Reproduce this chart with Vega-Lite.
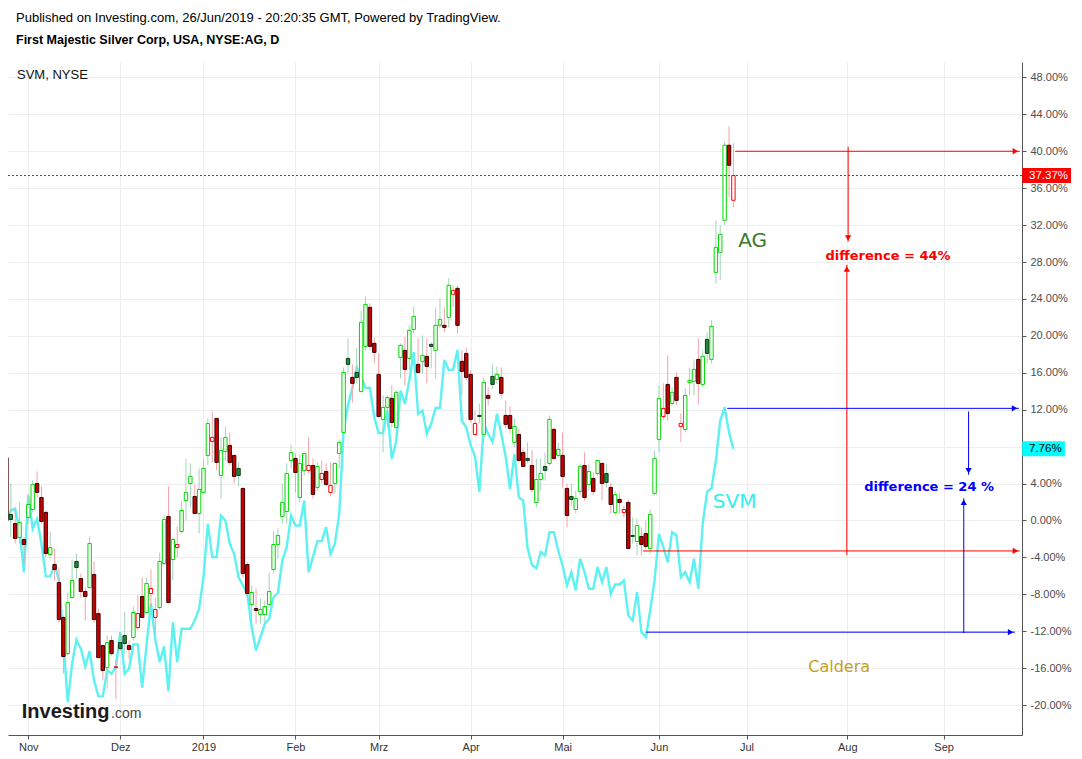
{
  "$schema": "https://vega.github.io/schema/vega-lite/v6.json",
  "width": 1014,
  "height": 673,
  "autosize": {"type": "none"},
  "padding": {"left": 8, "top": 62, "right": 60, "bottom": 24},
  "background": "#ffffff",
  "title": {
    "text": "Published on Investing.com, 26/Jun/2019 - 20:20:35 GMT, Powered by TradingView.",
    "subtitle": "First Majestic Silver Corp, USA, NYSE:AG, D",
    "anchor": "start", "frame": "group", "offset": 16, "dx": 8,
    "font": "Liberation Sans", "fontSize": 13, "fontWeight": "normal", "color": "#000000",
    "subtitleFont": "Liberation Sans", "subtitleFontSize": 12.5, "subtitleFontWeight": "bold",
    "subtitleColor": "#000000", "subtitlePadding": 9
  },
  "config": {
    "view": {"stroke": null},
    "scale": {"continuousPadding": 0},
    "axis": {
      "domainColor": "#555555", "tickColor": "#555555", "gridColor": "#eeeeee",
      "labelColor": "#4d4d4d", "labelFont": "Liberation Sans", "labelFontSize": 11,
      "tickSize": 4, "domainWidth": 1, "gridWidth": 1, "labelOverlap": false
    }
  },
  "datasets": {
    "prices": [
      {"t":-5,"o":6.8,"h":7.0,"l":-0.3,"c":0.0,"svm":0.0},
      {"t":-4,"o":0.65,"h":4.01,"l":-1.84,"c":0.11,"svm":1.1},
      {"t":-3,"o":-0.33,"h":1.41,"l":-2.49,"c":-1.95,"svm":1.27},
      {"t":-2,"o":-1.84,"h":1.95,"l":-2.49,"c":-0.22,"svm":-1.0},
      {"t":-1,"o":-2.06,"h":-1.84,"l":-4.88,"c":-2.60,"svm":-5.6},
      {"t":0,"o":0.33,"h":2.93,"l":-0.33,"c":1.73,"svm":2.71},
      {"t":1,"o":1.19,"h":4.34,"l":0.87,"c":3.90,"svm":-0.9},
      {"t":2,"o":4.01,"h":5.31,"l":2.38,"c":3.04,"svm":0.18},
      {"t":3,"o":2.49,"h":3.69,"l":-0.33,"c":-0.11,"svm":-2.5},
      {"t":4,"o":0.87,"h":1.08,"l":-4.01,"c":-3.58,"svm":-6.06},
      {"t":5,"o":-3.69,"h":-1.19,"l":-4.12,"c":-2.93,"svm":-6.06},
      {"t":6,"o":-4.77,"h":-3.04,"l":-6.50,"c":-5.31,"svm":-4.76},
      {"t":7,"o":-6.72,"h":-5.09,"l":-11.06,"c":-10.73,"svm":-6.5},
      {"t":8,"o":-10.51,"h":-10.30,"l":-16.59,"c":-14.74,"svm":-13.0},
      {"t":9,"o":-14.42,"h":-7.80,"l":-14.63,"c":-8.89,"svm":-19.67},
      {"t":10,"o":-8.35,"h":-4.23,"l":-8.46,"c":-6.50,"svm":-15.5},
      {"t":11,"o":-4.44,"h":-3.58,"l":-6.29,"c":-5.09,"svm":-12.9},
      {"t":12,"o":-6.29,"h":-5.75,"l":-8.35,"c":-7.70,"svm":-13.9},
      {"t":13,"o":-7.70,"h":-7.26,"l":-10.84,"c":-8.24,"svm":-15.8},
      {"t":14,"o":-7.26,"h":-1.73,"l":-7.37,"c":-2.49,"svm":-14.15},
      {"t":15,"o":-5.85,"h":-4.44,"l":-11.06,"c":-10.73,"svm":-17.3},
      {"t":16,"o":-10.08,"h":-9.54,"l":-14.96,"c":-14.85,"svm":-19.06},
      {"t":17,"o":-13.55,"h":-13.55,"l":-17.34,"c":-16.26,"svm":-19.06},
      {"t":18,"o":-15.94,"h":-12.47,"l":-18.21,"c":-13.23,"svm":-16.24},
      {"t":19,"o":-13.01,"h":-12.47,"l":-14.63,"c":-14.42,"svm":-16.6},
      {"t":20,"o":-15.94,"h":-15.18,"l":-19.40,"c":-15.85,"svm":-15.88},
      {"t":21,"o":-13.23,"h":-12.25,"l":-14.09,"c":-13.88,"svm":-12.09},
      {"t":22,"o":-12.47,"h":-9.86,"l":-14.42,"c":-13.33,"svm":-16.6},
      {"t":23,"o":-13.55,"h":-13.01,"l":-14.96,"c":-13.98,"svm":-16.06},
      {"t":24,"o":-12.68,"h":-9.32,"l":-13.01,"c":-9.97,"svm":-13.43},
      {"t":25,"o":-11.60,"h":-8.13,"l":-11.92,"c":-10.08,"svm":-13.43},
      {"t":26,"o":-8.24,"h":-6.18,"l":-10.62,"c":-10.51,"svm":-18.12},
      {"t":27,"o":-9.97,"h":-6.18,"l":-10.08,"c":-6.83,"svm":-13.5},
      {"t":28,"o":-7.91,"h":-5.31,"l":-9.43,"c":-7.37,"svm":-9.02},
      {"t":29,"o":-10.51,"h":-8.35,"l":-12.25,"c":-9.65,"svm":-12.92},
      {"t":30,"o":-9.43,"h":-3.47,"l":-9.65,"c":-4.44,"svm":-15.34},
      {"t":31,"o":-4.66,"h":0.54,"l":-4.88,"c":0.11,"svm":-13.64},
      {"t":32,"o":0.43,"h":3.69,"l":-9.00,"c":-8.89,"svm":-18.48},
      {"t":33,"o":-4.23,"h":-1.84,"l":-6.50,"c":-2.06,"svm":-11.01},
      {"t":34,"o":-2.93,"h":-0.65,"l":-4.01,"c":-2.60,"svm":-15.34},
      {"t":35,"o":-1.19,"h":2.17,"l":-1.41,"c":1.08,"svm":-11.73},
      {"t":36,"o":2.17,"h":6.72,"l":0.0,"c":3.04,"svm":-11.73},
      {"t":37,"o":4.01,"h":6.18,"l":1.41,"c":4.77,"svm":-11.73},
      {"t":38,"o":2.60,"h":3.90,"l":0.76,"c":0.76,"svm":-10.83},
      {"t":39,"o":0.76,"h":5.64,"l":-1.41,"c":3.36,"svm":-9.57},
      {"t":40,"o":3.04,"h":6.72,"l":2.93,"c":5.64,"svm":-6.14},
      {"t":41,"o":7.05,"h":11.06,"l":5.96,"c":10.51,"svm":-0.36},
      {"t":42,"o":8.56,"h":11.82,"l":6.29,"c":9.00,"svm":-3.97},
      {"t":43,"o":11.06,"h":11.06,"l":5.42,"c":6.29,"svm":-3.97},
      {"t":44,"o":4.88,"h":9.00,"l":2.38,"c":7.59,"svm":0.54},
      {"t":45,"o":7.48,"h":10.19,"l":6.50,"c":9.00,"svm":0.0},
      {"t":46,"o":8.13,"h":9.54,"l":5.96,"c":6.29,"svm":-2.52},
      {"t":47,"o":7.05,"h":7.05,"l":4.01,"c":4.77,"svm":-3.61},
      {"t":48,"o":5.64,"h":6.29,"l":3.69,"c":4.88,"svm":-6.14},
      {"t":49,"o":3.47,"h":3.58,"l":-6.18,"c":-5.75,"svm":-7.04},
      {"t":50,"o":-4.77,"h":-4.55,"l":-8.35,"c":-7.91,"svm":-7.94},
      {"t":51,"o":-9.11,"h":-7.05,"l":-11.17,"c":-7.80,"svm":-11.55},
      {"t":52,"o":-9.54,"h":-7.37,"l":-11.17,"c":-9.76,"svm":-14.08},
      {"t":53,"o":-10.19,"h":-8.46,"l":-11.17,"c":-9.65,"svm":-12.63},
      {"t":54,"o":-10.19,"h":-8.67,"l":-11.17,"c":-9.32,"svm":-11.19},
      {"t":55,"o":-9.11,"h":-5.64,"l":-9.43,"c":-7.70,"svm":-10.65},
      {"t":56,"o":-5.31,"h":-1.19,"l":-5.75,"c":-2.60,"svm":-8.3},
      {"t":57,"o":-2.60,"h":-0.87,"l":-4.12,"c":-1.63,"svm":-7.83},
      {"t":58,"o":0.43,"h":4.01,"l":-0.33,"c":1.95,"svm":-4.33},
      {"t":59,"o":0.98,"h":6.18,"l":-0.33,"c":5.09,"svm":-2.89},
      {"t":60,"o":6.50,"h":8.24,"l":5.64,"c":7.37,"svm":0.54},
      {"t":61,"o":6.72,"h":7.26,"l":3.04,"c":5.20,"svm":-0.54},
      {"t":62,"o":2.49,"h":7.15,"l":1.95,"c":6.18,"svm":-0.54},
      {"t":63,"o":5.42,"h":7.37,"l":4.88,"c":7.26,"svm":2.17},
      {"t":64,"o":5.42,"h":9.00,"l":5.09,"c":5.96,"svm":-5.6},
      {"t":65,"o":5.96,"h":6.72,"l":2.38,"c":2.82,"svm":-3.97},
      {"t":66,"o":3.58,"h":6.29,"l":3.25,"c":5.85,"svm":-2.24},
      {"t":67,"o":4.44,"h":6.50,"l":4.01,"c":5.09,"svm":-2.24},
      {"t":68,"o":5.31,"h":6.18,"l":3.69,"c":3.90,"svm":-0.72},
      {"t":69,"o":3.04,"h":6.29,"l":2.60,"c":3.80,"svm":-3.61},
      {"t":70,"o":4.01,"h":6.29,"l":2.93,"c":6.18,"svm":-2.52},
      {"t":71,"o":7.26,"h":8.78,"l":5.64,"c":8.46,"svm":0.72},
      {"t":72,"o":9.54,"h":16.59,"l":9.00,"c":16.04,"svm":9.75},
      {"t":73,"o":17.56,"h":19.73,"l":15.94,"c":16.91,"svm":12.5},
      {"t":74,"o":15.50,"h":16.91,"l":12.79,"c":14.85,"svm":14.4},
      {"t":75,"o":16.04,"h":18.65,"l":14.85,"c":15.50,"svm":16.6},
      {"t":76,"o":13.98,"h":22.66,"l":13.88,"c":21.46,"svm":15.52},
      {"t":77,"o":18.86,"h":24.28,"l":18.43,"c":23.41,"svm":14.37},
      {"t":78,"o":23.09,"h":23.52,"l":18.43,"c":18.86,"svm":14.37},
      {"t":79,"o":19.19,"h":19.84,"l":17.02,"c":18.21,"svm":11.19},
      {"t":80,"o":15.83,"h":18.10,"l":11.17,"c":11.27,"svm":9.46},
      {"t":81,"o":10.95,"h":13.55,"l":7.37,"c":12.25,"svm":9.46},
      {"t":82,"o":12.25,"h":13.55,"l":10.08,"c":13.33,"svm":11.91},
      {"t":83,"o":13.23,"h":14.63,"l":10.08,"c":10.62,"svm":6.68},
      {"t":84,"o":10.08,"h":14.09,"l":9.97,"c":13.88,"svm":8.59},
      {"t":85,"o":17.67,"h":19.19,"l":15.39,"c":18.97,"svm":14.08},
      {"t":86,"o":18.43,"h":19.84,"l":14.63,"c":16.37,"svm":12.63},
      {"t":87,"o":17.56,"h":21.14,"l":16.26,"c":20.60,"svm":15.16},
      {"t":88,"o":20.70,"h":23.20,"l":20.27,"c":22.11,"svm":18.23},
      {"t":89,"o":16.91,"h":19.73,"l":15.94,"c":16.04,"svm":11.55},
      {"t":90,"o":17.24,"h":20.05,"l":15.94,"c":17.89,"svm":11.91},
      {"t":91,"o":17.78,"h":19.73,"l":14.85,"c":16.69,"svm":9.39},
      {"t":92,"o":19.08,"h":19.30,"l":16.48,"c":18.86,"svm":10.47},
      {"t":93,"o":18.43,"h":23.09,"l":15.39,"c":21.14,"svm":12.2},
      {"t":94,"o":21.14,"h":24.07,"l":20.81,"c":21.79,"svm":12.2},
      {"t":95,"o":21.14,"h":23.09,"l":20.38,"c":20.92,"svm":17.4},
      {"t":96,"o":22.01,"h":26.23,"l":20.92,"c":25.47,"svm":16.32},
      {"t":97,"o":24.50,"h":25.47,"l":23.09,"c":24.93,"svm":16.32},
      {"t":98,"o":25.15,"h":25.47,"l":20.27,"c":21.14,"svm":18.48},
      {"t":99,"o":17.24,"h":18.43,"l":13.55,"c":16.15,"svm":10.8},
      {"t":100,"o":18.10,"h":18.75,"l":15.18,"c":15.50,"svm":10.1},
      {"t":101,"o":15.83,"h":16.26,"l":10.62,"c":10.95,"svm":8.2},
      {"t":102,"o":9.32,"h":11.92,"l":9.21,"c":10.51,"svm":6.9},
      {"t":103,"o":11.38,"h":12.68,"l":10.51,"c":11.27,"svm":3.1},
      {"t":104,"o":9.32,"h":15.50,"l":8.35,"c":14.96,"svm":10.5},
      {"t":105,"o":13.55,"h":14.42,"l":12.47,"c":13.23,"svm":9.4},
      {"t":106,"o":15.61,"h":16.91,"l":14.31,"c":14.74,"svm":8.5},
      {"t":107,"o":15.28,"h":16.69,"l":14.85,"c":15.83,"svm":11.55},
      {"t":108,"o":15.50,"h":16.59,"l":13.23,"c":13.77,"svm":9.4},
      {"t":109,"o":11.38,"h":13.01,"l":9.97,"c":10.41,"svm":6.9},
      {"t":110,"o":11.38,"h":12.36,"l":9.43,"c":9.97,"svm":3.4},
      {"t":111,"o":8.46,"h":11.06,"l":7.91,"c":10.19,"svm":7.2},
      {"t":112,"o":9.32,"h":9.97,"l":6.29,"c":6.50,"svm":2.5},
      {"t":113,"o":7.37,"h":7.80,"l":5.75,"c":5.85,"svm":2.17},
      {"t":114,"o":6.72,"h":8.46,"l":6.18,"c":6.50,"svm":-3.0},
      {"t":115,"o":5.96,"h":7.59,"l":3.04,"c":3.36,"svm":-4.8},
      {"t":116,"o":1.95,"h":6.72,"l":1.41,"c":4.44,"svm":-5.2},
      {"t":117,"o":4.44,"h":6.72,"l":3.25,"c":5.09,"svm":-3.43},
      {"t":118,"o":5.85,"h":7.37,"l":4.34,"c":5.42,"svm":-3.79},
      {"t":119,"o":6.18,"h":11.38,"l":5.96,"c":10.95,"svm":-1.26},
      {"t":120,"o":9.86,"h":10.08,"l":6.50,"c":6.72,"svm":-1.26},
      {"t":121,"o":7.05,"h":8.46,"l":6.83,"c":7.70,"svm":-3.25},
      {"t":122,"o":7.05,"h":9.54,"l":3.58,"c":4.77,"svm":-4.87},
      {"t":123,"o":3.47,"h":4.01,"l":-0.76,"c":0.54,"svm":-7.04},
      {"t":124,"o":2.60,"h":4.01,"l":1.63,"c":2.28,"svm":-5.6},
      {"t":125,"o":1.19,"h":3.25,"l":0.76,"c":2.38,"svm":-7.58},
      {"t":126,"o":3.14,"h":6.18,"l":2.71,"c":5.85,"svm":-4.15},
      {"t":127,"o":5.96,"h":7.37,"l":2.17,"c":2.49,"svm":-5.6},
      {"t":128,"o":3.90,"h":6.18,"l":3.25,"c":5.31,"svm":-7.4},
      {"t":129,"o":4.55,"h":5.20,"l":2.71,"c":3.14,"svm":-7.4},
      {"t":130,"o":5.09,"h":6.61,"l":4.88,"c":6.50,"svm":-5.05},
      {"t":131,"o":6.18,"h":6.29,"l":2.17,"c":4.01,"svm":-6.68},
      {"t":132,"o":5.09,"h":6.18,"l":3.58,"c":4.12,"svm":-5.05},
      {"t":133,"o":3.58,"h":4.12,"l":0.76,"c":1.73,"svm":-7.94},
      {"t":134,"o":0.87,"h":3.25,"l":0.54,"c":2.82,"svm":-6.93},
      {"t":135,"o":2.28,"h":3.04,"l":0.76,"c":1.95,"svm":-6.93},
      {"t":136,"o":0.87,"h":1.63,"l":0.33,"c":1.19,"svm":-6.5},
      {"t":137,"o":1.95,"h":2.28,"l":-3.04,"c":-3.04,"svm":-10.29},
      {"t":138,"o":-1.63,"h":0.33,"l":-2.49,"c":-1.73,"svm":-10.83},
      {"t":139,"o":-2.28,"h":0.22,"l":-3.79,"c":-0.54,"svm":-7.76},
      {"t":140,"o":-1.73,"h":-0.76,"l":-3.79,"c":-2.60,"svm":-12.09},
      {"t":141,"o":-1.41,"h":0.0,"l":-3.04,"c":-2.82,"svm":-12.63},
      {"t":142,"o":-3.04,"h":1.19,"l":-3.58,"c":0.65,"svm":-9.75},
      {"t":143,"o":2.93,"h":7.59,"l":2.71,"c":6.72,"svm":-6.5},
      {"t":144,"o":8.78,"h":14.63,"l":7.37,"c":13.23,"svm":-1.44},
      {"t":145,"o":11.27,"h":14.85,"l":10.95,"c":12.14,"svm":-2.89},
      {"t":146,"o":14.74,"h":17.89,"l":10.84,"c":11.60,"svm":-4.51},
      {"t":147,"o":12.68,"h":14.42,"l":12.47,"c":13.88,"svm":-1.26},
      {"t":148,"o":15.50,"h":16.04,"l":12.47,"c":13.01,"svm":-1.62},
      {"t":149,"o":10.19,"h":11.60,"l":8.46,"c":10.51,"svm":-6.14},
      {"t":150,"o":9.86,"h":14.31,"l":9.54,"c":13.55,"svm":-5.6},
      {"t":151,"o":14.96,"h":16.59,"l":13.55,"c":15.18,"svm":-6.68},
      {"t":152,"o":15.07,"h":17.45,"l":13.55,"c":16.37,"svm":-4.15},
      {"t":153,"o":17.45,"h":19.73,"l":12.57,"c":14.85,"svm":-7.4},
      {"t":154,"o":14.74,"h":18.43,"l":14.42,"c":17.78,"svm":-0.3},
      {"t":155,"o":19.62,"h":20.38,"l":17.02,"c":18.10,"svm":3.1},
      {"t":156,"o":17.45,"h":21.68,"l":17.02,"c":21.03,"svm":3.5},
      {"t":157,"o":26.88,"h":32.52,"l":25.69,"c":29.59,"svm":6.5},
      {"t":158,"o":29.05,"h":31.98,"l":26.02,"c":31.00,"svm":10.83},
      {"t":159,"o":32.52,"h":40.98,"l":31.98,"c":40.65,"svm":12.27},
      {"t":160,"o":40.65,"h":42.71,"l":35.01,"c":38.48,"svm":9.57},
      {"t":161,"o":34.69,"h":40.87,"l":33.93,"c":37.37,"svm":7.76}
    ]
  },
  "layer": [
    {
      "data": {"name": "prices"},
      "mark": {"type": "line", "color": "#4cf0f0", "strokeWidth": 2.4, "opacity": 0.9, "clip": true},
      "encoding": {
        "x": {
          "field": "t", "type": "quantitative", "title": null,
          "scale": {"domain": [-4.64, 226.9], "nice": false, "zero": false, "padding": 0},
          "axis": {
            "orient": "bottom", "grid": true, "tickCount": 40,
            "values": [0, 21, 40, 61, 80, 101, 122, 144, 164, 187, 209],
            "labelExpr": "['Nov','Dez','2019','Feb','Mrz','Apr','Mai','Jun','Jul','Aug','Sep'][indexof([0,21,40,61,80,101,122,144,164,187,209], datum.value)]",
            "labelPadding": 2, "labelColor": "#333333", "labelOverlap": false
          }
        },
        "y": {
          "field": "svm", "type": "quantitative", "title": null,
          "scale": {"domain": [-23.24, 49.67], "nice": false, "zero": false, "padding": 0},
          "axis": {
            "orient": "right", "grid": true, "tickCount": 40,
            "values": [-20, -16, -12, -8, -4, 0, 4, 8, 12, 16, 20, 24, 28, 32, 36, 40, 44, 48],
            "labelExpr": "(datum.value < 0 ? '-' : '') + format(abs(datum.value), '.2f') + '%'",
            "labelPadding": 4, "labelOverlap": false
          }
        }
      }
    },
    {
      "data": {"name": "prices"},
      "transform": [{"window": [{"op": "lag", "field": "c", "as": "pc"}], "sort": [{"field": "t"}]}],
      "mark": {"type": "rule", "strokeWidth": 1, "clip": true},
      "encoding": {
        "x": {"field": "t", "type": "quantitative", "title": null, "scale": {"domain": [-4.64, 226.9], "nice": false, "zero": false, "padding": 0}},
        "y": {"field": "l", "type": "quantitative", "title": null, "scale": {"domain": [-23.24, 49.67], "nice": false, "zero": false, "padding": 0}},
        "y2": {"field": "h"},
        "color": {"condition": {"test": "datum.pc != null && datum.c >= datum.pc", "value": "#a3d4b8"}, "value": "#f4a3ab"}
      }
    },
    {
      "data": {"name": "prices"},
      "transform": [{"window": [{"op": "lag", "field": "c", "as": "pc"}], "sort": [{"field": "t"}]}],
      "mark": {"type": "bar", "width": 3.4, "strokeWidth": 1, "clip": true},
      "encoding": {
        "x": {"field": "t", "type": "quantitative", "title": null, "scale": {"domain": [-4.64, 226.9], "nice": false, "zero": false, "padding": 0}},
        "y": {"field": "o", "type": "quantitative", "title": null, "scale": {"domain": [-23.24, 49.67], "nice": false, "zero": false, "padding": 0}},
        "y2": {"field": "c"},
        "fill": {
          "condition": [
            {"test": "datum.c > datum.o", "value": "#ffffff"},
            {"test": "datum.pc != null && datum.c >= datum.pc", "value": "#1e8c3c"}
          ],
          "value": "#c80000"
        },
        "stroke": {
          "condition": [
            {"test": "datum.c > datum.o && datum.pc != null && datum.c >= datum.pc", "value": "#00d800"},
            {"test": "datum.c > datum.o", "value": "#ff0000"},
            {"test": "datum.pc != null && datum.c >= datum.pc", "value": "#0c3a12"}
          ],
          "value": "#3c0000"
        }
      }
    },
    {
      "data": {"values": [{"s": "AG", "v": 37.37}]},
      "mark": {"type": "rule", "strokeWidth": 1, "strokeDash": [2, 2], "opacity": 1},
      "encoding": {
        "y": {"field": "v", "type": "quantitative", "title": null, "scale": {"domain": [-23.24, 49.67], "nice": false, "zero": false, "padding": 0}},
        "color": {"field": "s", "type": "nominal", "scale": {"domain": ["AG", "SVM"], "range": ["#ff0000", "#0000ff"]}, "legend": null}
      }
    },
    {
      "data": {"values": [
        {"s": "AG", "x1": 161.4, "x2": 226.4, "y1": 40, "y2": 40},
        {"s": "AG", "x1": 140.4, "x2": 226.4, "y1": -3.3, "y2": -3.3},
        {"s": "AG", "x1": 187.2, "x2": 187.2, "y1": 40.5, "y2": 30.2},
        {"s": "AG", "x1": 186.9, "x2": 186.9, "y1": -3.75, "y2": 27.7},
        {"s": "SVM", "x1": 159.6, "x2": 226.2, "y1": 12.15, "y2": 12.15},
        {"s": "SVM", "x1": 141.1, "x2": 225.3, "y1": -12.1, "y2": -12.1},
        {"s": "SVM", "x1": 214.7, "x2": 214.7, "y1": 11.8, "y2": 4.95},
        {"s": "SVM", "x1": 213.6, "x2": 213.6, "y1": -12.2, "y2": 2.4}
      ]},
      "mark": {"type": "rule", "strokeWidth": 1},
      "encoding": {
        "x": {"field": "x1", "type": "quantitative", "title": null, "scale": {"domain": [-4.64, 226.9], "nice": false, "zero": false, "padding": 0}},
        "x2": {"field": "x2"},
        "y": {"field": "y1", "type": "quantitative", "title": null, "scale": {"domain": [-23.24, 49.67], "nice": false, "zero": false, "padding": 0}},
        "y2": {"field": "y2"},
        "color": {"field": "s", "type": "nominal", "scale": {"domain": ["AG", "SVM"], "range": ["#ff0000", "#0000ff"]}, "legend": null}
      }
    },
    {
      "data": {"values": [
        {"s": "AG", "t": 225.4, "v": 40, "dir": "right"},
        {"s": "AG", "t": 225.4, "v": -3.3, "dir": "right"},
        {"s": "AG", "t": 187.2, "v": 30.6, "dir": "down"},
        {"s": "AG", "t": 186.9, "v": 27.25, "dir": "up"},
        {"s": "SVM", "t": 225.2, "v": 12.15, "dir": "right"},
        {"s": "SVM", "t": 224.3, "v": -12.1, "dir": "right"},
        {"s": "SVM", "t": 214.7, "v": 5.4, "dir": "down"},
        {"s": "SVM", "t": 213.6, "v": 1.97, "dir": "up"}
      ]},
      "mark": {"type": "point", "filled": true, "size": 40, "opacity": 1},
      "encoding": {
        "x": {"field": "t", "type": "quantitative", "title": null, "scale": {"domain": [-4.64, 226.9], "nice": false, "zero": false, "padding": 0}},
        "y": {"field": "v", "type": "quantitative", "title": null, "scale": {"domain": [-23.24, 49.67], "nice": false, "zero": false, "padding": 0}},
        "shape": {"field": "dir", "type": "nominal", "scale": {"domain": ["right", "down", "up"], "range": ["triangle-right", "triangle-down", "triangle-up"]}, "legend": null},
        "color": {"field": "s", "type": "nominal", "scale": {"domain": ["AG", "SVM"], "range": ["#ff0000", "#0000ff"]}, "legend": null}
      }
    },
    {
      "data": {"values": [{"v": 37.37}]},
      "mark": {"type": "bar", "orient": "horizontal", "size": 15, "color": "#ff0000"},
      "encoding": {
        "x": {"datum": 226.95, "type": "quantitative", "title": null, "scale": {"domain": [-4.64, 226.9], "nice": false, "zero": false, "padding": 0}},
        "x2": {"datum": 238.1},
        "y": {"field": "v", "type": "quantitative", "title": null, "scale": {"domain": [-23.24, 49.67], "nice": false, "zero": false, "padding": 0}}
      }
    },
    {
      "data": {"values": [{"v": 7.76}]},
      "mark": {"type": "bar", "orient": "horizontal", "size": 15, "color": "#00ffff"},
      "encoding": {
        "x": {"datum": 226.95, "type": "quantitative", "title": null, "scale": {"domain": [-4.64, 226.9], "nice": false, "zero": false, "padding": 0}},
        "x2": {"datum": 236.7},
        "y": {"field": "v", "type": "quantitative", "title": null, "scale": {"domain": [-23.24, 49.67], "nice": false, "zero": false, "padding": 0}}
      }
    },
    {
      "data": {"values": [{"v": 37.37, "label": "37.37%"}]},
      "mark": {"type": "text", "align": "left", "baseline": "middle", "dx": 7, "font": "Liberation Sans", "fontSize": 11.5, "color": "#ffffff"},
      "encoding": {
        "x": {"datum": 226.9, "type": "quantitative", "title": null, "scale": {"domain": [-4.64, 226.9], "nice": false, "zero": false, "padding": 0}},
        "y": {"field": "v", "type": "quantitative", "title": null, "scale": {"domain": [-23.24, 49.67], "nice": false, "zero": false, "padding": 0}},
        "text": {"field": "label"}
      }
    },
    {
      "data": {"values": [{"v": 7.76, "label": "7.76%"}]},
      "mark": {"type": "text", "align": "left", "baseline": "middle", "dx": 7, "font": "Liberation Sans", "fontSize": 11.5, "color": "#000000"},
      "encoding": {
        "x": {"datum": 226.9, "type": "quantitative", "title": null, "scale": {"domain": [-4.64, 226.9], "nice": false, "zero": false, "padding": 0}},
        "y": {"field": "v", "type": "quantitative", "title": null, "scale": {"domain": [-23.24, 49.67], "nice": false, "zero": false, "padding": 0}},
        "text": {"field": "label"}
      }
    },
    {
      "data": {"values": [{"t": -2.58, "v": 47.8, "label": "SVM, NYSE"}]},
      "mark": {"type": "text", "align": "left", "baseline": "alphabetic", "font": "Liberation Sans", "fontSize": 13, "color": "#111111"},
      "encoding": {
        "x": {"field": "t", "type": "quantitative", "title": null, "scale": {"domain": [-4.64, 226.9], "nice": false, "zero": false, "padding": 0}},
        "y": {"field": "v", "type": "quantitative", "title": null, "scale": {"domain": [-23.24, 49.67], "nice": false, "zero": false, "padding": 0}},
        "text": {"field": "label"}
      }
    },
    {
      "data": {"values": [{"t": 162.1, "v": 29.6, "label": "AG"}]},
      "mark": {"type": "text", "align": "left", "baseline": "alphabetic", "font": "DejaVu Sans", "fontSize": 20, "color": "#3b7a2a"},
      "encoding": {
        "x": {"field": "t", "type": "quantitative", "title": null, "scale": {"domain": [-4.64, 226.9], "nice": false, "zero": false, "padding": 0}},
        "y": {"field": "v", "type": "quantitative", "title": null, "scale": {"domain": [-23.24, 49.67], "nice": false, "zero": false, "padding": 0}},
        "text": {"field": "label"}
      }
    },
    {
      "data": {"values": [{"t": 156.3, "v": 1.39, "label": "SVM"}]},
      "mark": {"type": "text", "align": "left", "baseline": "alphabetic", "font": "DejaVu Sans", "fontSize": 20, "color": "#33eeee"},
      "encoding": {
        "x": {"field": "t", "type": "quantitative", "title": null, "scale": {"domain": [-4.64, 226.9], "nice": false, "zero": false, "padding": 0}},
        "y": {"field": "v", "type": "quantitative", "title": null, "scale": {"domain": [-23.24, 49.67], "nice": false, "zero": false, "padding": 0}},
        "text": {"field": "label"}
      }
    },
    {
      "data": {"values": [{"t": 178.1, "v": -16.38, "label": "Caldera"}]},
      "mark": {"type": "text", "align": "left", "baseline": "alphabetic", "font": "DejaVu Sans", "fontSize": 16, "color": "#c89e20"},
      "encoding": {
        "x": {"field": "t", "type": "quantitative", "title": null, "scale": {"domain": [-4.64, 226.9], "nice": false, "zero": false, "padding": 0}},
        "y": {"field": "v", "type": "quantitative", "title": null, "scale": {"domain": [-23.24, 49.67], "nice": false, "zero": false, "padding": 0}},
        "text": {"field": "label"}
      }
    },
    {
      "data": {"values": [{"t": 196.3, "v": 28.2, "label": "difference = 44%"}]},
      "mark": {"type": "text", "align": "center", "baseline": "alphabetic", "font": "DejaVu Sans", "fontWeight": "bold", "fontSize": 13, "color": "#ff0000"},
      "encoding": {
        "x": {"field": "t", "type": "quantitative", "title": null, "scale": {"domain": [-4.64, 226.9], "nice": false, "zero": false, "padding": 0}},
        "y": {"field": "v", "type": "quantitative", "title": null, "scale": {"domain": [-23.24, 49.67], "nice": false, "zero": false, "padding": 0}},
        "text": {"field": "label"}
      }
    },
    {
      "data": {"values": [{"t": 205.7, "v": 3.2, "label": "difference = 24 %"}]},
      "mark": {"type": "text", "align": "center", "baseline": "alphabetic", "font": "DejaVu Sans", "fontWeight": "bold", "fontSize": 13, "color": "#0000ff"},
      "encoding": {
        "x": {"field": "t", "type": "quantitative", "title": null, "scale": {"domain": [-4.64, 226.9], "nice": false, "zero": false, "padding": 0}},
        "y": {"field": "v", "type": "quantitative", "title": null, "scale": {"domain": [-23.24, 49.67], "nice": false, "zero": false, "padding": 0}},
        "text": {"field": "label"}
      }
    },
    {
      "data": {"values": [{"t": -1.5, "v": -21.43, "label": "Investing"}]},
      "mark": {"type": "text", "align": "left", "baseline": "alphabetic", "font": "Liberation Sans", "fontWeight": "bold", "fontSize": 20, "color": "#1a1a1a"},
      "encoding": {
        "x": {"field": "t", "type": "quantitative", "title": null, "scale": {"domain": [-4.64, 226.9], "nice": false, "zero": false, "padding": 0}},
        "y": {"field": "v", "type": "quantitative", "title": null, "scale": {"domain": [-23.24, 49.67], "nice": false, "zero": false, "padding": 0}},
        "text": {"field": "label"}
      }
    },
    {
      "data": {"values": [{"t": 18.9, "v": -21.43, "label": ".com"}]},
      "mark": {"type": "text", "align": "left", "baseline": "alphabetic", "font": "Liberation Sans", "fontSize": 14, "color": "#444444"},
      "encoding": {
        "x": {"field": "t", "type": "quantitative", "title": null, "scale": {"domain": [-4.64, 226.9], "nice": false, "zero": false, "padding": 0}},
        "y": {"field": "v", "type": "quantitative", "title": null, "scale": {"domain": [-23.24, 49.67], "nice": false, "zero": false, "padding": 0}},
        "text": {"field": "label"}
      }
    }
  ]
}
